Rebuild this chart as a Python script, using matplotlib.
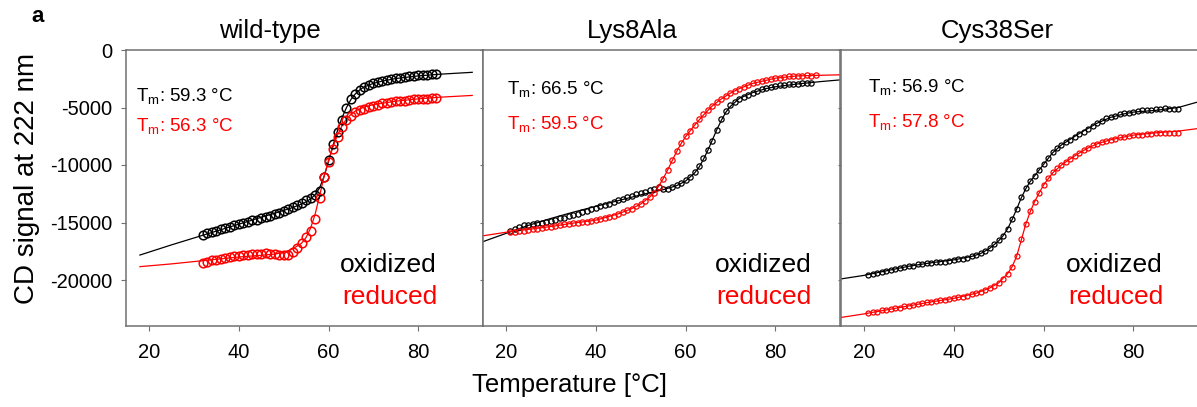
import matplotlib
matplotlib.use("Agg")
import matplotlib.pyplot as plt

plt.rcParams['font.family'] = ['Liberation Sans', 'DejaVu Sans']
plt.rcParams['mathtext.fontset'] = 'custom'
plt.rcParams['mathtext.rm'] = 'Liberation Sans'
plt.rcParams['axes.unicode_minus'] = False

# ---- wild-type ----
wt_ox_t = list(range(32, 85))
wt_ox_v = [-16100, -15950, -15800, -15700, -15550, -15450, -15400, -15250, -15150, -15000,
           -14950, -14800, -14750, -14650, -14550, -14400, -14300, -14150, -14000, -13800,
           -13650, -13500, -13300, -13050, -12850, -12600, -12250, -11000, -9600, -8200,
           -7100, -6100, -5000, -4300, -3800, -3500, -3250, -3050, -2900, -2800,
           -2700, -2600, -2500, -2450, -2400, -2350, -2300, -2250, -2200, -2200,
           -2150, -2100, -2050]
wt_red_t = list(range(32, 85))
wt_red_v = [-18500, -18450, -18300, -18250, -18150, -18050, -18000, -17900, -17900, -17850,
            -17800, -17750, -17700, -17700, -17650, -17700, -17750, -17800, -17850, -17800,
            -17550, -17200, -16800, -16300, -15700, -14700, -12900, -11000, -9700, -8600,
            -7600, -6700, -6050, -5700, -5400, -5250, -5100, -4950, -4850, -4750,
            -4650, -4600, -4500, -4450, -4400, -4400, -4350, -4300, -4300, -4250,
            -4250, -4200, -4150]
wt_ox_fit_t = [18, 25, 30, 35, 40, 45, 48, 50, 52, 54, 55, 56, 57, 58, 59, 60, 61, 62, 63,
               64, 65, 66, 67, 68, 70, 72, 75, 80, 85, 92]
wt_ox_fit_v = [-17830, -16950, -16350, -15750, -15150, -14550, -14200, -13950, -13700, -13400,
               -13200, -12950, -12600, -12000, -11000, -9700, -8300, -7000, -5900, -5000,
               -4300, -3800, -3450, -3200, -2900, -2700, -2480, -2250, -2100, -1940]
wt_red_fit_t = [18, 25, 30, 35, 40, 45, 48, 50, 52, 54, 55, 56, 57, 58, 59, 60, 61, 62, 63,
                64, 65, 66, 68, 70, 75, 80, 85, 92]
wt_red_fit_v = [-18840, -18600, -18400, -18200, -18000, -17850, -17750, -17600, -17300, -16800,
                -16300, -15500, -14300, -12700, -11000, -9600, -8400, -7400, -6600, -6000,
                -5600, -5300, -4950, -4750, -4450, -4250, -4100, -3950]

# ---- Lys8Ala ----
k8_ox_t = list(range(21, 89))
k8_ox_v = [-15750, -15600, -15350, -15250, -15200, -15150, -15050, -15000, -14950, -14850,
           -14750, -14650, -14600, -14450, -14350, -14250, -14100, -14000, -13850, -13700,
           -13600, -13450, -13350, -13200, -13050, -12950, -12800, -12700, -12550, -12450,
           -12350, -12200, -12100, -11950, -12100, -12050, -11900, -11750, -11550, -11300,
           -11000, -10600, -10050, -9400, -8700, -7900, -6950, -6000, -5300, -4800,
           -4500, -4250, -4050, -3900, -3700, -3550, -3400, -3300, -3200, -3100,
           -3050, -3000, -2950, -2950, -2950, -2900, -2900, -2850]
k8_red_t = list(range(21, 90))
k8_red_v = [-15800, -15850, -15750, -15700, -15650, -15600, -15550, -15500, -15400, -15350,
            -15300, -15200, -15150, -15100, -15050, -15000, -14950, -14950, -14900, -14800,
            -14700, -14600, -14500, -14400, -14250, -14100, -13950, -13800, -13600, -13350,
            -13100, -12800, -12400, -11900, -11200, -10400, -9600, -8800, -8100, -7500,
            -7000, -6500, -6000, -5600, -5200, -4850, -4550, -4250, -4000, -3750,
            -3550, -3350, -3200, -3050, -2900, -2800, -2700, -2600, -2500, -2450,
            -2400, -2350, -2300, -2300, -2250, -2250, -2200, -2250, -2200]
k8_ox_fit_t = [15, 20, 25, 30, 35, 40, 45, 50, 55, 58, 60, 62, 63, 64, 65, 66, 67, 68, 69,
               70, 72, 75, 78, 80, 85, 90, 95]
k8_ox_fit_v = [-16650, -15950, -15250, -14650, -14100, -13600, -13100, -12600, -12150, -11800,
               -11400, -10700, -10200, -9500, -8700, -7800, -6900, -6100, -5400, -4900,
               -4200, -3700, -3350, -3200, -2950, -2750, -2580]
k8_red_fit_t = [15, 20, 25, 30, 35, 40, 45, 48, 50, 52, 53, 54, 55, 56, 57, 58, 59, 60, 62,
                64, 66, 68, 70, 72, 75, 80, 85, 90, 95]
k8_red_fit_v = [-16150, -15850, -15600, -15350, -15050, -14800, -14250, -13800, -13400, -12800,
                -12400, -11850, -11200, -10450, -9650, -8850, -8150, -7550, -6550, -5650,
                -4850, -4250, -3750, -3350, -2900, -2450, -2250, -2200, -2150]

# ---- Cys38Ser ----
c38_ox_t = list(range(21, 91))
c38_ox_v = [-19550, -19500, -19350, -19300, -19200, -19150, -19050, -18950, -18900, -18800,
            -18750, -18650, -18600, -18550, -18500, -18450, -18400, -18400, -18350, -18250,
            -18200, -18150, -18050, -17900, -17800, -17650, -17450, -17200, -16900, -16550,
            -16150, -15550, -14700, -13800, -12800, -12000, -11400, -10950, -10450, -9900,
            -9350, -8900, -8550, -8250, -8000, -7800, -7550, -7300, -7100, -6850,
            -6600, -6350, -6150, -5950, -5800, -5700, -5600, -5500, -5450, -5350,
            -5300, -5250, -5250, -5200, -5150, -5100, -5050, -5100, -5150, -5150]
c38_red_t = list(range(21, 91))
c38_red_v = [-22900, -22800, -22750, -22650, -22600, -22550, -22450, -22400, -22300, -22250,
             -22150, -22100, -22000, -21950, -21900, -21800, -21750, -21700, -21650, -21600,
             -21500, -21450, -21350, -21250, -21150, -21000, -20850, -20700, -20550, -20300,
             -19950, -19500, -18900, -17900, -16400, -15100, -14000, -13200, -12450, -11700,
             -11100, -10650, -10300, -10000, -9700, -9450, -9200, -8950, -8700, -8500,
             -8300, -8150, -8000, -7900, -7800, -7700, -7600, -7550, -7500, -7400,
             -7400, -7350, -7300, -7300, -7250, -7250, -7200, -7200, -7250, -7200]
c38_ox_fit_t = [15, 20, 25, 30, 35, 40, 44, 46, 48, 50, 51, 52, 53, 54, 55, 56, 57, 58, 60,
                62, 64, 66, 68, 70, 72, 75, 78, 80, 85, 90, 95]
c38_ox_fit_v = [-19900, -19600, -19200, -18800, -18500, -18250, -17950, -17700, -17250, -16600,
                -16150, -15550, -14750, -13850, -12900, -12100, -11450, -10950, -9950, -8950,
                -8250, -7750, -7250, -6800, -6350, -5850, -5550, -5400, -5250, -5000, -4450]
c38_red_fit_t = [15, 20, 25, 30, 35, 40, 45, 48, 50, 52, 53, 54, 55, 56, 57, 58, 59, 60, 62,
                 64, 66, 68, 70, 72, 75, 80, 85, 90, 95]
c38_red_fit_v = [-23250, -22950, -22600, -22250, -21900, -21600, -21150, -20700, -20250, -19450,
                 -18850, -17950, -16600, -15200, -14100, -13200, -12450, -11750, -10700, -10000,
                 -9450, -8950, -8500, -8150, -7800, -7400, -7200, -7050, -6800]

titles = ['wild-type', 'Lys8Ala', 'Cys38Ser']
tm_ox = ['59.3', '66.5', '56.9']
tm_red = ['56.3', '59.5', '57.8']

panels = [
    (wt_ox_t, wt_ox_v, wt_red_t, wt_red_v, wt_ox_fit_t, wt_ox_fit_v, wt_red_fit_t, wt_red_fit_v),
    (k8_ox_t, k8_ox_v, k8_red_t, k8_red_v, k8_ox_fit_t, k8_ox_fit_v, k8_red_fit_t, k8_red_fit_v),
    (c38_ox_t, c38_ox_v, c38_red_t, c38_red_v, c38_ox_fit_t, c38_ox_fit_v, c38_red_fit_t, c38_red_fit_v),
]

W, H = 1197, 407
fig = plt.figure(figsize=(W / 100, H / 100), dpi=100)

lefts = [126, 483, 841]
title_x = [270, 632, 997]
tm_x = [136, 507, 868]
tm_y = [(97, 127), (90, 125), (88, 123)]
lab_right = [437, 812, 1163]
msizes = [6.2, 3.8, 3.6]
mews = [1.1, 0.9, 0.9]
grey = '#707070'

for i, (ot, ov, rt, rv, oft, ofv, rft, rfv) in enumerate(panels):
    ax = fig.add_axes([lefts[i] / W, 1 - 326 / H, 357 / W, 276 / H])
    ax.plot(oft, ofv, color='black', lw=0.9, zorder=2)
    ax.plot(rft, rfv, color='red', lw=0.9, zorder=2)
    ax.plot(ot, ov, 'o', mfc='none', mec='black', ms=msizes[i], mew=mews[i], zorder=3)
    ax.plot(rt, rv, 'o', mfc='none', mec='red', ms=msizes[i], mew=mews[i], zorder=4)
    ax.set_xlim(14.9, 94.4)
    ax.set_ylim(-24000, 0)
    ax.set_xticks([20, 40, 60, 80])
    ax.set_yticks([0, -5000, -10000, -15000, -20000])
    for s in ax.spines.values():
        s.set_color(grey)
        s.set_linewidth(1.1)
    ax.tick_params(axis='x', direction='out', length=3.6, width=0.8, color=grey,
                   labelsize=14.5, pad=9)
    ax.tick_params(axis='y', direction='out', length=3.6 if i == 0 else 2.5, width=0.8,
                   color=grey, labelsize=14.5, pad=6, labelleft=(i == 0))
    if i == 2:
        ax.spines['right'].set_visible(False)

    fig.text(title_x[i] / W, 1 - 31 / H, titles[i], fontsize=18.5, ha='center', va='center')
    fig.text(tm_x[i] / W, 1 - tm_y[i][0] / H, r'T$_\mathrm{m}$: ' + tm_ox[i] + ' °C',
             fontsize=13.5, color='black', ha='left', va='center')
    fig.text(tm_x[i] / W, 1 - tm_y[i][1] / H, r'T$_\mathrm{m}$: ' + tm_red[i] + ' °C',
             fontsize=13.5, color='red', ha='left', va='center')
    fig.text(lab_right[i] / W, 1 - 265 / H, 'oxidized', fontsize=19, color='black',
             ha='right', va='center')
    fig.text(lab_right[i] / W, 1 - 297 / H, 'reduced', fontsize=19, color='red',
             ha='right', va='center')

fig.text(570 / W, 1 - 385 / H, 'Temperature [°C]', fontsize=18.5, ha='center', va='center')
fig.text(27 / W, 1 - 178 / H, 'CD signal at 222 nm', fontsize=20, rotation=90,
         ha='center', va='center')
fig.text(38 / W, 1 - 17 / H, 'a', fontsize=16, fontweight='bold', ha='center', va='center')

fig.savefig('out.png', dpi=100)
